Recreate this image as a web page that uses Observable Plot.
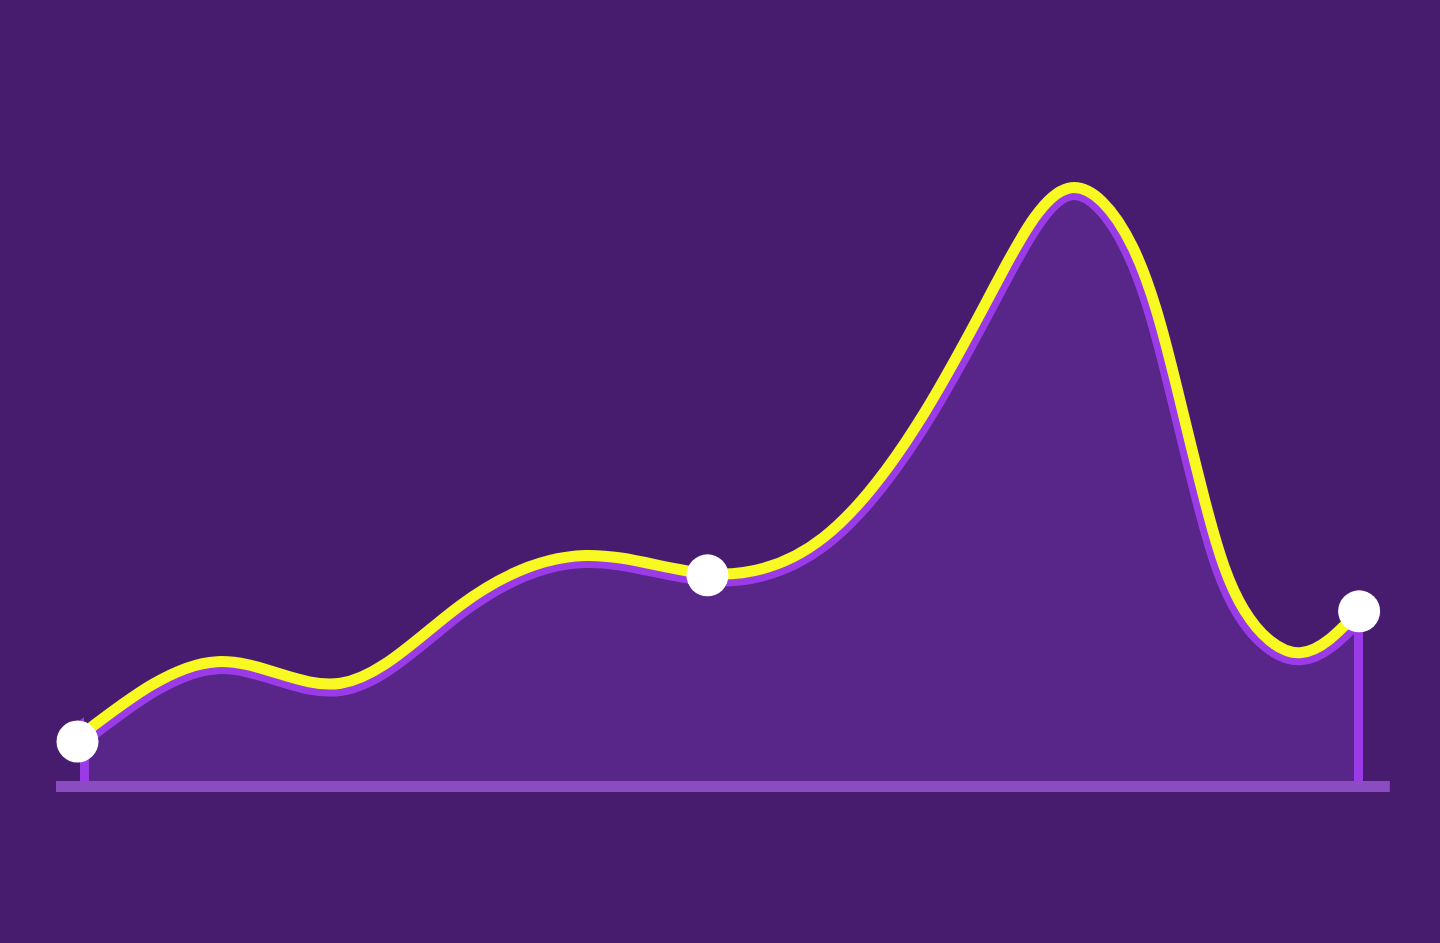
<!DOCTYPE html>
<html>
<head>
<meta charset="utf-8">
<script src="https://cdn.jsdelivr.net/npm/d3@7"></script>
<script src="https://cdn.jsdelivr.net/npm/@observablehq/plot@0.6"></script>
<style>
  html, body { margin: 0; padding: 0; background: #471c6e; overflow: hidden; }
  #chart svg { display: block; }
</style>
</head>
<body>
<div id="chart"></div>
<script>
// Curve samples (x position along the axis 0..100, value 0..100)
const xs = [0, 10.4, 20.1, 29.5, 39.3, 48.9, 58.0, 65.9, 71.9, 77.2, 82.3, 85.6, 88.2, 91.0, 95.4, 100];
const values = [9.0, 20.8, 17.2, 30.2, 38.5, 35.5, 41.5, 62.2, 85.2, 99.7, 89.8, 67.7, 45.5, 29.5, 22.3, 29.2];
// Highlighted points
const dotX = [-0.55, 48.9, 100.05];
const dotY = [7.5, 35.2, 29.2];
// Stems at the ends
const stemX = [0, 100];
const stemY = [9.0, 29.2];
// Baseline extent
const baseFrom = -2.2, baseTo = 102.5;

const curve = xs.map((x, i) => ({x, v: values[i]}));
const dots = dotX.map((x, i) => ({x, y: dotY[i]}));
const stems = stemX.map((x, i) => ({x, y: stemY[i]}));

const BG = "#471c6e";
const curveType = "natural";

const chart = Plot.plot({
  width: 1440,
  height: 943,
  marginLeft: 84,
  marginRight: 82,
  marginTop: 186,
  marginBottom: 157,
  x: {domain: [0, 100], axis: null},
  y: {domain: [0, 100], axis: null},
  style: {background: BG},
  marks: [
    Plot.areaY(curve, {x: "x", y: "v", fill: "#582588", curve: curveType}),
    Plot.ruleX(stems, {x: "x", y1: 0, y2: "y", stroke: "#9b3be8", strokeWidth: 9}),
    Plot.line(curve, {x: "x", y: "v", stroke: "#9b3be8", strokeWidth: 25, curve: curveType}),
    Plot.area(curve, {x1: "x", y1: "v", y2: 131, fill: BG, curve: curveType}),
    Plot.ruleY([0], {x1: baseFrom, x2: baseTo, stroke: "#8a4cc0", strokeWidth: 11}),
    Plot.line(curve, {x: "x", y: "v", stroke: "#f8f823", strokeWidth: 11, curve: curveType}),
    Plot.dot(dots, {x: "x", y: "y", r: 21, fill: "white", stroke: "none"})
  ]
});
document.getElementById("chart").appendChild(chart);
</script>
</body>
</html>
